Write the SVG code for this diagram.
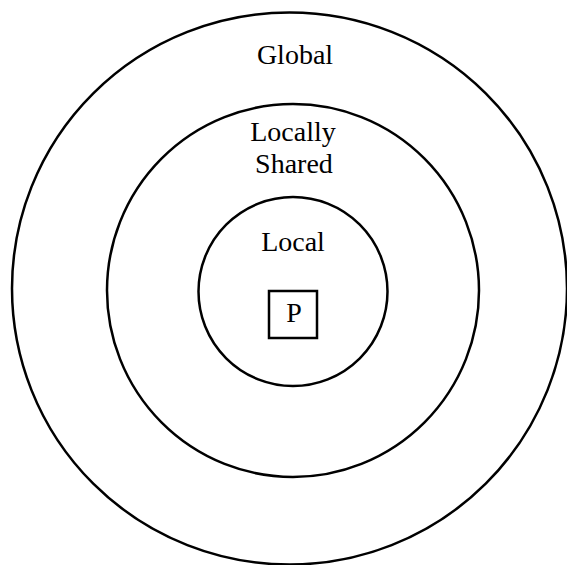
<svg xmlns="http://www.w3.org/2000/svg" width="567" height="565" viewBox="0 0 567 565">
<style>
.ring{fill:none;stroke:#000;stroke-width:2.5}
.lbl{font-family:"Liberation Serif","Times New Roman",serif;font-size:28px;fill:#000;text-anchor:middle}
</style>
<rect width="567" height="565" fill="#fff"/>
<g id="global">
<ellipse class="ring" cx="289.5" cy="288.5" rx="277.5" ry="276"/>
<text class="lbl" x="295" y="64">Global</text>
</g>
<g id="locally-shared">
<ellipse class="ring" cx="293" cy="290.5" rx="186" ry="186.5"/>
<text class="lbl" x="293" y="141">Locally</text>
<text class="lbl" x="294" y="173">Shared</text>
</g>
<g id="local">
<circle class="ring" cx="293" cy="291.5" r="94.5"/>
<text class="lbl" x="293" y="251">Local</text>
</g>
<g id="P">
<rect x="269" y="291" width="48" height="47" fill="none" stroke="#000" stroke-width="2.5"/>
<text class="lbl" x="294" y="322">P</text>
</g>
<g id="connectors"/>
</svg>
